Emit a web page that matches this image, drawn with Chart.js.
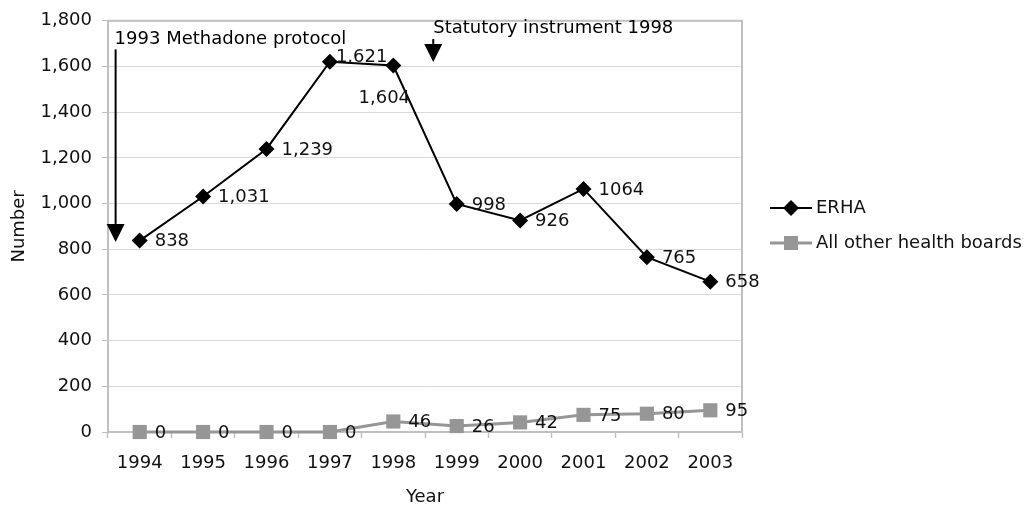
<!DOCTYPE html>
<html>
<head>
<meta charset="utf-8">
<script src="https://cdn.jsdelivr.net/npm/chart.js@4.4.1/dist/chart.umd.min.js"></script>
<style>
    html, body { margin: 0; padding: 0; background: #fff; }
    #wrap { width: 1032px; height: 506px; }
</style>
</head>
<body>
<div id="wrap"><canvas id="chart" width="1032" height="506"></canvas></div>
<script>
// Data
const years = ['1994', '1995', '1996', '1997', '1998', '1999', '2000', '2001', '2002', '2003'];
const erha = [838, 1031, 1239, 1621, 1604, 998, 926, 1064, 765, 658];
const erhaLabels = ['838', '1,031', '1,239', '1,621', '1,604', '998', '926', '1064', '765', '658'];
const otherBoards = [0, 0, 0, 0, 46, 26, 42, 75, 80, 95];
const otherLabels = ['0', '0', '0', '0', '46', '26', '42', '75', '80', '95'];
const yTicks = [0, 200, 400, 600, 800, 1000, 1200, 1400, 1600, 1800];

const FONT = 'DejaVu Sans';
const FONT_SIZE = 18;
const TEXT = '#111';
const GRAY = '#969696';

/**
 * Frame round the plot area (Excel style grey border)
 */
const plotFrame = {
    id: 'plotFrame',
    beforeDatasetsDraw(chart) {
        const { ctx, chartArea: a } = chart;
        ctx.save();
        ctx.strokeStyle = '#c0c0c0';
        ctx.lineWidth = 2;
        ctx.strokeRect(a.left, a.top, a.right - a.left, a.bottom - a.top);
        ctx.restore();
    }
};

/**
 * Value labels next to each point
 */
const pointLabels = {
    id: 'pointLabels',
    afterDatasetsDraw(chart, args, opts) {
        const { ctx } = chart;
        ctx.save();
        ctx.font = `${FONT_SIZE}px "${FONT}"`;
        ctx.fillStyle = TEXT;
        ctx.textBaseline = 'middle';
        chart.data.datasets.forEach((ds, di) => {
            const meta = chart.getDatasetMeta(di);
            meta.data.forEach((pt, i) => {
                const place = (opts.special[di] || {})[i];
                let dx = 15, dy = 1, align = 'left';
                if (place) {
                    dx = place.dx; dy = place.dy; align = place.align;
                }
                ctx.textAlign = align;
                ctx.fillText(ds.valueLabels[i], pt.x + dx, pt.y + dy);
            });
        });
        ctx.restore();
    }
};

/**
 * Policy annotations with arrows, placed through the scales
 */
const policyArrows = {
    id: 'policyArrows',
    afterDraw(chart, args, opts) {
        const { ctx, scales: { x, y } } = chart;
        ctx.save();
        ctx.font = `${FONT_SIZE}px "${FONT}"`;
        ctx.fillStyle = '#000';
        ctx.strokeStyle = '#000';
        ctx.textBaseline = 'middle';
        ctx.textAlign = 'left';
        opts.items.forEach(item => {
            const px = x.getPixelForValue(item.at);
            const top = y.getPixelForValue(item.from);
            const tip = y.getPixelForValue(item.to);
            const head = 18;
            ctx.lineWidth = 2;
            ctx.beginPath();
            ctx.moveTo(px, top);
            ctx.lineTo(px, tip - head);
            ctx.stroke();
            ctx.beginPath();
            ctx.moveTo(px - 9, tip - head);
            ctx.lineTo(px + 9, tip - head);
            ctx.lineTo(px, tip);
            ctx.closePath();
            ctx.fill();
            ctx.fillText(item.text, px + item.textDx, y.getPixelForValue(item.textAt));
        });
        ctx.restore();
    }
};

/**
 * Legend on the right: line with marker through it
 */
const sideLegend = {
    id: 'sideLegend',
    afterDraw(chart, args, opts) {
        const { ctx, chartArea: a } = chart;
        ctx.save();
        ctx.font = `${FONT_SIZE}px "${FONT}"`;
        ctx.textBaseline = 'middle';
        ctx.textAlign = 'left';
        chart.data.datasets.forEach((ds, i) => {
            const x0 = a.right + opts.gap;
            const yy = opts.top + i * opts.spacing;
            ctx.strokeStyle = ds.borderColor;
            ctx.lineWidth = ds.borderWidth;
            ctx.beginPath();
            ctx.moveTo(x0, yy);
            ctx.lineTo(x0 + opts.lineLen, yy);
            ctx.stroke();
            const cx = x0 + opts.lineLen / 2;
            ctx.fillStyle = ds.pointBackgroundColor;
            ctx.beginPath();
            if (ds.pointStyle === 'rectRot') {
                ctx.moveTo(cx, yy - 8);
                ctx.lineTo(cx + 8, yy);
                ctx.lineTo(cx, yy + 8);
                ctx.lineTo(cx - 8, yy);
                ctx.closePath();
            } else {
                ctx.rect(cx - 7, yy - 7, 14, 14);
            }
            ctx.fill();
            ctx.fillStyle = TEXT;
            ctx.fillText(ds.label, x0 + opts.lineLen + 4, yy);
        });
        ctx.restore();
    }
};

new Chart(document.getElementById('chart'), {
    type: 'line',
    data: {
        labels: years,
        datasets: [
            {
                label: 'ERHA',
                data: erha,
                valueLabels: erhaLabels,
                borderColor: '#000',
                backgroundColor: '#000',
                borderWidth: 2,
                pointStyle: 'rectRot',
                pointRadius: 8,
                pointBackgroundColor: '#000',
                pointBorderWidth: 0,
                tension: 0,
                clip: false
            },
            {
                label: 'All other health boards',
                data: otherBoards,
                valueLabels: otherLabels,
                borderColor: GRAY,
                backgroundColor: GRAY,
                borderWidth: 3,
                pointStyle: 'rect',
                pointRadius: 10,
                pointBackgroundColor: GRAY,
                pointBorderWidth: 0,
                tension: 0,
                clip: false
            }
        ]
    },
    options: {
        responsive: false,
        animation: false,
        layout: { padding: { top: 19, right: 290, left: 0, bottom: 0 } },
        scales: {
            x: {
                type: 'category',
                offset: true,
                afterFit: s => { s.height = 74; },
                grid: {
                    offset: true,
                    drawOnChartArea: false,
                    tickLength: 6,
                    tickColor: '#c0c0c0',
                    tickWidth: 1.5
                },
                border: { color: '#c0c0c0', width: 2 },
                ticks: {
                    color: TEXT,
                    padding: 15,
                    maxRotation: 0,
                    font: { family: FONT, size: FONT_SIZE }
                },
                title: {
                    display: true,
                    text: 'Year',
                    color: TEXT,
                    padding: 0,
                    font: { family: FONT, size: FONT_SIZE, lineHeight: 1 }
                }
            },
            y: {
                min: 0,
                max: 1800,
                afterFit: s => { s.width = 108; },
                afterBuildTicks: s => { s.ticks = yTicks.map(v => ({ value: v })); },
                grid: {
                    color: '#d9d9d9',
                    lineWidth: 1,
                    tickLength: 6,
                    tickColor: '#c0c0c0'
                },
                border: { color: '#c0c0c0', width: 2 },
                ticks: {
                    color: TEXT,
                    padding: 10,
                    font: { family: FONT, size: FONT_SIZE },
                    callback: v => v.toLocaleString('en-US')
                },
                title: {
                    display: true,
                    text: 'Number',
                    color: TEXT,
                    padding: { top: 9, bottom: 0 },
                    font: { family: FONT, size: FONT_SIZE }
                }
            }
        },
        plugins: {
            legend: { display: false },
            tooltip: { enabled: false },
            pointLabels: {
                special: {
                    0: {
                        3: { dx: 6, dy: -4, align: 'left' },
                        4: { dx: -9, dy: 33, align: 'center' }
                    }
                }
            },
            policyArrows: {
                items: [
                    { text: '1993 Methadone protocol', at: -0.38, from: 1675, to: 832, textAt: 1720, textDx: -1 },
                    { text: 'Statutory instrument 1998', at: 4.63, from: 1720, to: 1620, textAt: 1765, textDx: 0 }
                ]
            },
            sideLegend: { gap: 28, lineLen: 42, top: 208, spacing: 35 }
        }
    },
    plugins: [plotFrame, pointLabels, policyArrows, sideLegend]
});
</script>
</body>
</html>
